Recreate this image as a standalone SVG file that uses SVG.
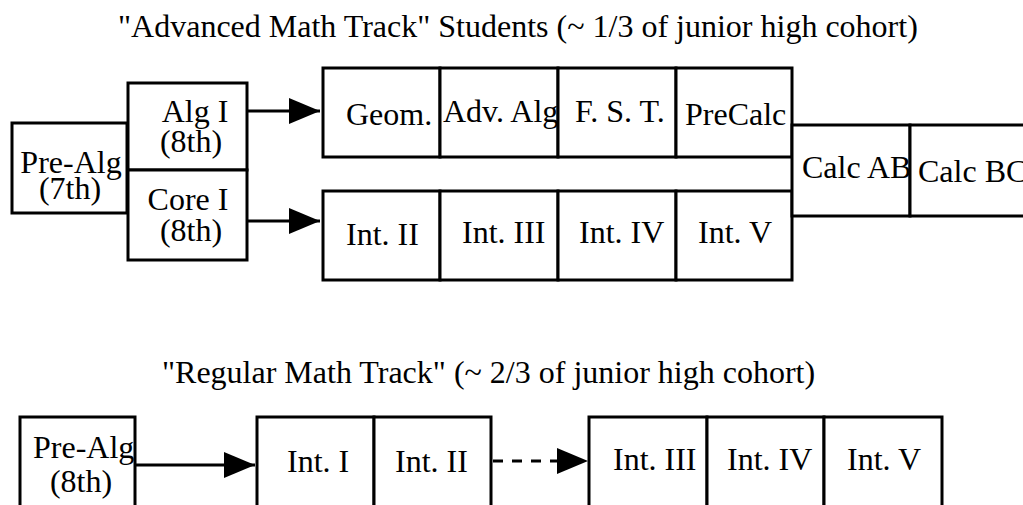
<svg xmlns="http://www.w3.org/2000/svg" width="1023" height="505" viewBox="0 0 1023 505">
<style>
.box{fill:#fff;stroke:#000;stroke-width:3}
text{font-family:"Liberation Serif","Times New Roman",serif;font-size:32px;fill:#000}
.c{text-anchor:middle}
.ln{stroke:#000;stroke-width:3;fill:none}
.dash{stroke-dasharray:10 9}
</style>
<defs>
<marker id="ah" markerUnits="userSpaceOnUse" markerWidth="32" markerHeight="26" refX="31" refY="13" orient="auto" viewBox="0 0 32 26">
<path d="M0,0 L31,13 L0,26 z" fill="#000"/>
</marker>
</defs>
<rect width="1023" height="505" fill="#fff"/>
<g font-family="Liberation Serif, serif">
<text x="118" y="37">"Advanced Math Track" Students (~ 1/3 of junior high cohort)</text>
<text x="162" y="383">"Regular Math Track" (~ 2/3 of junior high cohort)</text>

<g id="connectors">
<line class="ln" x1="247" y1="111" x2="320" y2="111" marker-end="url(#ah)"/>
<line class="ln" x1="247" y1="221" x2="320" y2="221" marker-end="url(#ah)"/>
<line class="ln" x1="135" y1="465" x2="255" y2="465" marker-end="url(#ah)"/>
<line class="ln dash" x1="493" y1="461" x2="588" y2="461" marker-end="url(#ah)"/>
</g>

<g id="prealg7"><rect class="box" x="12" y="123" width="115" height="90"/><text class="c" x="71" y="173">Pre-Alg</text><text class="c" x="70" y="199">(7th)</text></g>
<g id="alg1"><rect class="box" x="128" y="83" width="119" height="87"/><text class="c" x="195" y="122">Alg I</text><text class="c" x="191" y="152">(8th)</text></g>
<g id="core1"><rect class="box" x="128" y="170" width="119" height="90"/><text class="c" x="188" y="210">Core I</text><text class="c" x="191" y="241">(8th)</text></g>

<g id="geom"><rect class="box" x="323" y="68" width="117" height="89"/><text x="346" y="125">Geom.</text></g>
<g id="advalg"><rect class="box" x="440" y="68" width="118" height="89"/><text x="443" y="122">Adv. Alg</text></g>
<g id="fst"><rect class="box" x="558" y="68" width="118" height="89"/><text x="575" y="122">F. S. T.</text></g>
<g id="precalc"><rect class="box" x="676" y="68" width="116" height="89"/><text x="685" y="125">PreCalc</text></g>

<g id="int2a"><rect class="box" x="323" y="191" width="117" height="89"/><text x="346" y="245">Int. II</text></g>
<g id="int3a"><rect class="box" x="440" y="191" width="118" height="89"/><text x="462" y="243">Int. III</text></g>
<g id="int4a"><rect class="box" x="558" y="191" width="118" height="89"/><text x="579" y="243">Int. IV</text></g>
<g id="int5a"><rect class="box" x="676" y="191" width="116" height="89"/><text x="698" y="243">Int. V</text></g>

<g id="calcab"><rect class="box" x="792" y="125" width="118" height="91"/><text x="802" y="178">Calc AB</text></g>
<g id="calcbc"><rect class="box" x="910" y="125" width="130" height="91"/><text x="918" y="182">Calc BC</text></g>

<g id="prealg8"><rect class="box" x="20" y="417" width="115" height="100"/><text x="33" y="458">Pre-Alg</text><text class="c" x="81" y="492">(8th)</text></g>
<g id="int1b"><rect class="box" x="257" y="417" width="117" height="100"/><text x="287" y="472">Int. I</text></g>
<g id="int2b"><rect class="box" x="374" y="417" width="117" height="100"/><text x="395" y="472">Int. II</text></g>
<g id="int3b"><rect class="box" x="589" y="417" width="118" height="100"/><text x="613" y="470">Int. III</text></g>
<g id="int4b"><rect class="box" x="707" y="417" width="117" height="100"/><text x="727" y="470">Int. IV</text></g>
<g id="int5b"><rect class="box" x="824" y="417" width="118" height="100"/><text x="847" y="470">Int. V</text></g>
</g>
</svg>
